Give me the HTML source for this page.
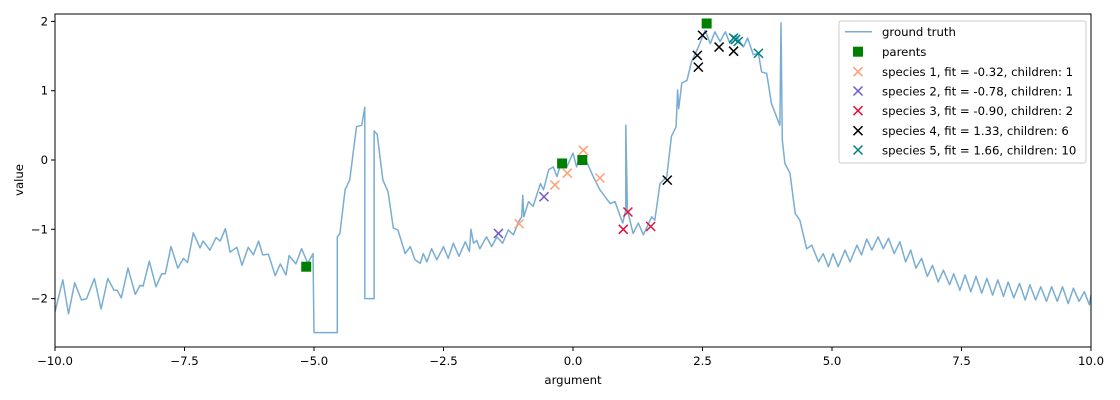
<!DOCTYPE html>
<html><head><meta charset="utf-8"><style>
body{margin:0;background:#fff}
svg{display:block;font-family:"DejaVu Sans","Liberation Sans",sans-serif}
</style></head><body>
<svg id="chart" width="1120" height="400" xmlns="http://www.w3.org/2000/svg">
<rect width="1120" height="400" fill="#fff"/>
<g id="plot"></g>
<g id="axes"></g>
<text x="573" y="384" font-size="11.7" text-anchor="middle" fill="#000">argument</text>
<text x="23" y="180" font-size="11.7" text-anchor="middle" fill="#000" transform="rotate(-90 23 180)">value</text>
<g id="legend"></g>
</svg>
<script>
const gtX = [-10,-9.85,-9.74,-9.62,-9.49,-9.39,-9.24,-9.11,-8.98,-8.86,-8.80,-8.72,-8.59,-8.45,-8.36,-8.30,-8.18,-8.05,-7.94,-7.87,-7.76,-7.63,-7.52,-7.44,-7.33,-7.20,-7.14,-7.01,-6.89,-6.81,-6.71,-6.62,-6.49,-6.39,-6.27,-6.17,-6.07,-5.99,-5.88,-5.75,-5.65,-5.54,-5.48,-5.35,-5.24,-5.12,-5.02,-5.00,-4.55,-4.55,-4.50,-4.40,-4.31,-4.18,-4.08,-4.02,-4.02,-3.84,-3.84,-3.78,-3.67,-3.57,-3.47,-3.38,-3.24,-3.14,-3.05,-2.95,-2.89,-2.82,-2.73,-2.63,-2.50,-2.41,-2.31,-2.20,-2.08,-2.00,-1.97,-1.92,-1.86,-1.80,-1.67,-1.57,-1.47,-1.36,-1.25,-1.15,-1.05,-0.99,-0.97,-0.95,-0.86,-0.77,-0.63,-0.57,-0.47,-0.38,-0.31,-0.22,-0.12,0.00,0.07,0.13,0.26,0.39,0.52,0.72,0.81,0.96,1.02,1.02,1.05,1.16,1.26,1.36,1.52,1.58,1.68,1.81,1.90,1.99,2.02,2.04,2.10,2.20,2.29,2.42,2.55,2.65,2.74,2.84,2.94,3.03,3.13,3.16,3.29,3.37,3.48,3.58,3.64,3.74,3.83,3.93,3.995,4.015,4.04,4.09,4.19,4.29,4.38,4.51,4.61,4.74,4.83,4.93,5.02,5.12,5.25,5.35,5.48,5.57,5.67,5.77,5.89,5.99,6.09,6.20,6.31,6.42,6.52,6.62,6.73,6.84,6.94,7.05,7.15,7.27,7.35,7.47,7.57,7.68,7.78,7.89,7.99,8.10,8.20,8.31,8.40,8.51,8.62,8.73,8.82,8.93,9.03,9.14,9.24,9.35,9.45,9.56,9.66,9.77,9.87,9.97,10];
const gtY = [-2.19,-1.73,-2.22,-1.77,-2.02,-2.00,-1.71,-2.15,-1.71,-1.88,-1.88,-1.99,-1.56,-1.94,-1.81,-1.82,-1.46,-1.83,-1.64,-1.64,-1.25,-1.56,-1.42,-1.48,-1.05,-1.27,-1.17,-1.30,-1.12,-1.17,-0.99,-1.33,-1.26,-1.52,-1.26,-1.37,-1.17,-1.37,-1.36,-1.67,-1.50,-1.66,-1.38,-1.50,-1.28,-1.49,-1.35,-2.49,-2.49,-1.11,-1.06,-0.43,-0.29,0.48,0.50,0.76,-2.0,-2.0,0.42,0.37,-0.29,-0.46,-0.98,-1.01,-1.35,-1.25,-1.44,-1.49,-1.35,-1.47,-1.28,-1.44,-1.25,-1.42,-1.20,-1.39,-1.18,-1.32,-1.00,-1.20,-1.16,-1.28,-1.11,-1.25,-1.11,-1.20,-1.01,-1.08,-0.89,-0.82,-0.51,-0.82,-0.60,-0.67,-0.34,-0.43,-0.14,-0.10,-0.24,-0.02,-0.10,0.10,-0.10,0.05,-0.02,-0.24,-0.43,-0.63,-0.60,-0.91,-0.72,0.50,-0.72,-1.06,-0.91,-1.08,-0.82,-0.87,-0.34,-0.24,0.34,0.48,1.01,0.74,1.11,1.15,1.42,1.63,1.87,1.68,1.85,1.71,1.85,1.68,1.80,1.78,1.63,1.76,1.52,1.54,1.27,1.25,0.82,0.62,0.50,1.98,0.29,-0.05,-0.19,-0.77,-0.87,-1.28,-1.23,-1.47,-1.35,-1.54,-1.35,-1.54,-1.30,-1.47,-1.23,-1.37,-1.14,-1.30,-1.11,-1.28,-1.13,-1.35,-1.18,-1.47,-1.30,-1.56,-1.42,-1.68,-1.52,-1.76,-1.59,-1.80,-1.64,-1.88,-1.66,-1.90,-1.68,-1.92,-1.71,-1.95,-1.73,-1.97,-1.76,-1.99,-1.78,-2.02,-1.80,-2.02,-1.83,-2.04,-1.83,-2.04,-1.83,-2.07,-1.85,-2.04,-1.90,-2.09,-1.95];
const parentsX = [-5.15,-0.21,0.18,2.58];
const parentsY = [-1.54,-0.05,0.0,1.97];
const s1X = [-1.04,-0.35,-0.11,0.20,0.52];
const s1Y = [-0.92,-0.36,-0.19,0.14,-0.26];
const s2X = [-1.44,-0.56];
const s2Y = [-1.06,-0.53];
const s3X = [0.97,1.06,1.50];
const s3Y = [-1.00,-0.75,-0.96];
const s4X = [1.82,2.40,2.42,2.50,2.82,3.10];
const s4Y = [-0.29,1.51,1.34,1.80,1.63,1.57];
const s5X = [3.10,3.14,3.19,3.58];
const s5Y = [1.76,1.74,1.71,1.54];
const xTicks = [-10,-7.5,-5,-2.5,0,2.5,5,7.5,10];
const xTickLabels = ["−10.0","−7.5","−5.0","−2.5","0.0","2.5","5.0","7.5","10.0"];
const yTicks = [-2,-1,0,1,2];
const yTickLabels = ["−2","−1","0","1","2"];
const legendLabels = ["ground truth","parents","species 1, fit = -0.32, children: 1","species 2, fit = -0.78, children: 1","species 3, fit = -0.90, children: 2","species 4, fit = 1.33, children: 6","species 5, fit = 1.66, children: 10"];

const L=55,R=1091,T=14,B=347;
const sx=v=>573+v*51.8;
const sy=v=>160-v*69.3;
const NS="http://www.w3.org/2000/svg";
function mk(tag,attrs,parent){const e=document.createElementNS(NS,tag);for(const k in attrs)e.setAttribute(k,attrs[k]);parent.appendChild(e);return e;}
const plot=document.getElementById('plot'),axes=document.getElementById('axes'),leg=document.getElementById('legend');

const clip=mk('clipPath',{id:'cp'},plot);mk('rect',{x:L,y:T,width:R-L,height:B-T},clip);
const g=mk('g',{'clip-path':'url(#cp)'},plot);
const pts=gtX.map((x,i)=>sx(x).toFixed(1)+','+sy(gtY[i]).toFixed(1)).join(' ');
const line=mk('polyline',{points:pts,fill:'none',stroke:'#1f77b4','stroke-opacity':'0.6','stroke-width':1.5,'stroke-linejoin':'round'},g);



parentsX.forEach((x,i)=>{
  const r=mk('rect',{x:sx(x)-5,y:sy(parentsY[i])-5,width:10,height:10,fill:'#008000'},g);
  
  
});
function cross(cx,cy,col,parent,s){
  return mk('path',{d:`M${cx-s},${cy-s}L${cx+s},${cy+s}M${cx-s},${cy+s}L${cx+s},${cy-s}`,stroke:col,'stroke-width':1.5,fill:'none'},parent);
}
const species=[[s1X,s1Y,'#FFA07A'],[s2X,s2Y,'#6A5ACD'],[s3X,s3Y,'#DC143C'],[s4X,s4Y,'#000000'],[s5X,s5Y,'#008080']];
species.forEach((sp,k)=>{
  sp[0].forEach((x,i)=>{
    const p=cross(sx(x),sy(sp[1][i]),sp[2],g,4.5);
    
    
  });
});

const frame=mk('rect',{x:L,y:T,width:R-L,height:B-T,fill:'none',stroke:'#000','stroke-width':1},axes);


xTicks.forEach((v,i)=>{
  mk('line',{x1:sx(v),x2:sx(v),y1:B,y2:B+4,stroke:'#000'},axes);
  const t=mk('text',{x:sx(v),y:365,'font-size':11.7,'text-anchor':'middle',fill:'#000'},axes);
  t.textContent=xTickLabels[i];
  
  
});
yTicks.forEach((v,i)=>{
  mk('line',{x1:L-4,x2:L,y1:sy(v),y2:sy(v),stroke:'#000'},axes);
  const t=mk('text',{x:L-7,y:sy(v)+4,'font-size':11.7,'text-anchor':'end',fill:'#000'},axes);
  t.textContent=yTickLabels[i];
  
  
});

const box=mk('rect',{x:839,y:21,width:247,height:142,rx:2,fill:'#fff','fill-opacity':0.8,stroke:'#ccc'},leg);


const rowY=[31.7,51.7,71.7,91,110.7,130.7,150];
legendLabels.forEach((lab,i)=>{
  const y=rowY[i];
  let h;
  if(i===0) h=mk('line',{x1:845,x2:872,y1:y,y2:y,stroke:'#1f77b4','stroke-opacity':0.6,'stroke-width':1.5},leg);
  else if(i===1) h=mk('rect',{x:853,y:y-5,width:10,height:10,fill:'#008000'},leg);
  else h=cross(858,y,species[i-2][2],leg,4.5);
  
  
  const t=mk('text',{x:882,y:y+4.5,'font-size':11.7,fill:'#000'},leg);
  t.textContent=lab;
  
  
});
</script>
</body></html>
